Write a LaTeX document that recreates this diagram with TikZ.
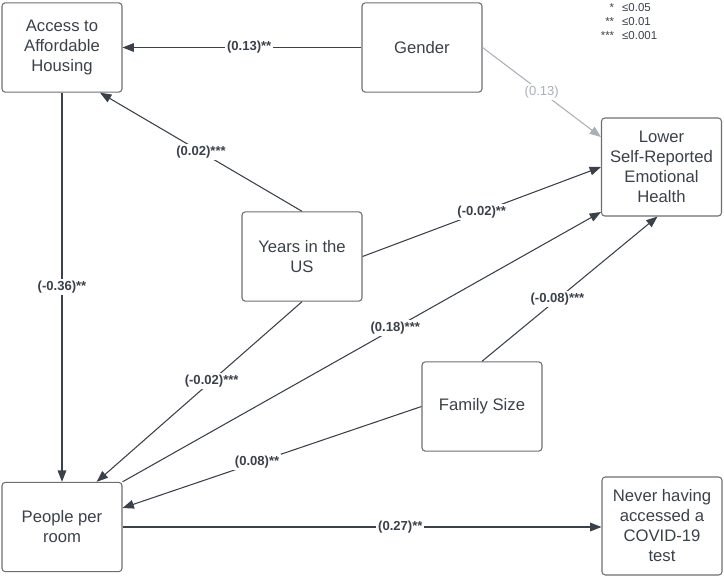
\documentclass[tikz,border=0pt]{standalone}
\usepackage{fontspec}
\setmainfont{Liberation Sans}
\usetikzlibrary{positioning,arrows.meta,calc}
\definecolor{lineGray}{HTML}{3A414A}
\definecolor{boxGray}{HTML}{6E6E6E}
\definecolor{weakGray}{HTML}{A9B0B8}

\begin{document}
\begin{tikzpicture}[x=0.75pt,y=-0.75pt,
      var/.style={draw=boxGray,line width=0.8pt,rounded corners=2.5pt,minimum width=90pt,minimum height=67pt,
        align=center,text=lineGray,inner sep=0pt,font=\fontsize{12.5}{15}\selectfont},
      tallvar/.style={var,minimum height=73.5pt},
      effect/.style={draw=lineGray,line width=0.8pt,-{Triangle[length=8.5pt,width=6.5pt]}},
      coef/.style={fill=white,text=lineGray,inner sep=1.5pt,font=\fontsize{9.8}{11}\selectfont\bfseries}]
    \useasboundingbox (0,0) rectangle (724,578);
    % variables
    \node[var] (acc) at (62,47.5) {Access to\\Affordable\\Housing};
    \node[var] (gen) at (422,47.5) {Gender};
    \node[tallvar] (low) at (661.5,167) {Lower\\Self-Reported\\Emotional\\Health};
    \node[var] (yrs) at (302,256.5) {Years in the\\US};
    \node[var] (fam) at (482,406.5) {Family Size};
    \node[var] (ppl) at (62,527) {People per\\room};
    \node[tallvar] (nev) at (662,526) {Never having\\accessed a\\COVID-19\\test};
    % legend
    \node[inner sep=0pt,text=lineGray,font=\fontsize{8.6}{10.5}\selectfont] (legend) at (629,23)
      {\begin{tabular}{@{}r@{\hspace{6pt}}l@{}}{*}&≤0.05\\{**}&≤0.01\\{***}&≤0.001\end{tabular}};
    % paths
    \draw[effect] (gen.west) -- node[coef,pos=0.47] {(0.13)**} (acc.east);
    \draw[effect,draw=weakGray] (gen.east) -- node[coef,text=weakGray,font=\fontsize{9.8}{11}\selectfont] {(0.13)} ([yshift=22.5pt]low.west);
    \draw[effect] (yrs.north) -- node[coef] {(0.02)***} ([xshift=28.5pt]acc.south);
    \draw[effect] (yrs.east) -- node[coef] {(-0.02)**} (low.west);
    \draw[effect] (acc.south) -- node[coef] {(-0.36)**} (ppl.north);
    \draw[effect] (yrs.south) -- node[coef,pos=0.44] {(-0.02)***} ([xshift=26pt]ppl.north);
    \draw[effect] (ppl.north east) -- node[coef,pos=0.57] {(0.18)***} ([yshift=-33.75pt]low.west);
    \draw[effect] (fam.north) -- node[coef,pos=0.43] {(-0.08)***} ([xshift=-3pt]low.south);
    \draw[effect] (fam.west) -- node[coef,pos=0.55] {(0.08)**} ([yshift=14.25pt]ppl.east);
    \draw[effect] (ppl.east) -- node[coef,pos=0.58] {(0.27)**} (ppl.east -| nev.west);
\end{tikzpicture}
\end{document}
